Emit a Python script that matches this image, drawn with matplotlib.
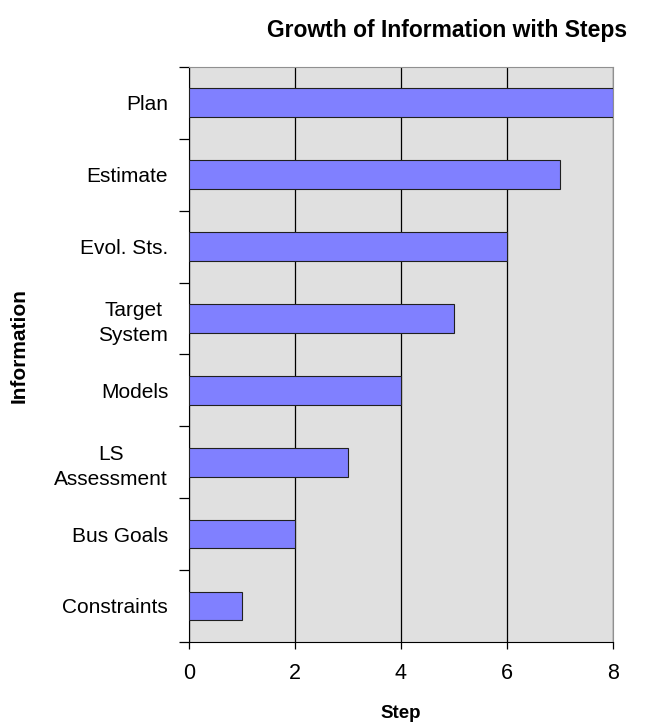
import numpy as np
import matplotlib.pyplot as plt

# data
categories = ['Constraints', 'Bus Goals', 'LS\nAssessment', 'Models',
              'Target\nSystem', 'Evol. Sts.', 'Estimate', 'Plan']
steps = [1, 2, 3, 4, 5, 6, 7, 8]
x_ticks = [0, 2, 4, 6, 8]

plt.rcParams['font.family'] = ['Liberation Sans', 'DejaVu Sans']

fig = plt.figure(figsize=(6.54, 7.27), dpi=100)
ax = fig.add_axes([0.289, 0.117, 0.648, 0.791])

pos = np.arange(len(categories))
ax.barh(pos, steps, height=0.4, color='#8080FF', edgecolor='#202020',
        linewidth=0.8, zorder=3)

ax.set_facecolor('#E0E0E0')
ax.set_xlim(0, 8)
ax.set_ylim(-0.5, len(categories) - 0.5)
ax.set_xticks(x_ticks)
ax.set_xticklabels([str(t) for t in x_ticks], fontsize=15.5)
ax.xaxis.grid(True, color='black', linewidth=0.9, zorder=1)

# category labels, ticks on the boundaries
ax.set_yticks(pos)
ax.set_yticklabels(categories, fontsize=15, ha='right', multialignment='center',
                   linespacing=1.4)
ax.tick_params(axis='y', which='major', length=0, pad=15)
ax.set_yticks(np.arange(-0.5, len(categories), 1), minor=True)
ax.tick_params(axis='y', which='minor', length=7, width=0.9, direction='out')
ax.tick_params(axis='x', length=5, width=0.9, direction='out', pad=10)

for s in ['top', 'right']:
    ax.spines[s].set_color('#909090')
for s in ['left', 'bottom']:
    ax.spines[s].set_color('black')

ax.set_xlabel('Step', fontsize=13.5, fontweight='bold', labelpad=15)
fig.text(0.683, 0.958, 'Growth of Information with Steps', fontsize=16.5,
         fontweight='bold', ha='center', va='center')
fig.text(0.03, 0.525, 'Information', rotation=90, fontsize=15,
         fontweight='bold', ha='center', va='center')

plt.savefig('out.png', dpi=100)
